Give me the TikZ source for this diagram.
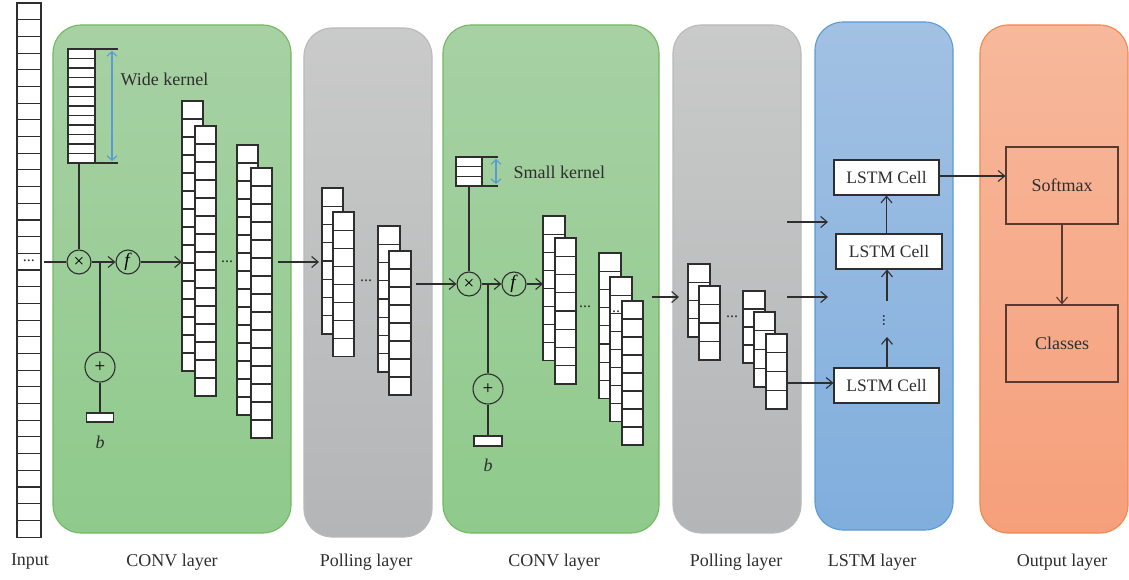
\documentclass[tikz,border=0pt]{standalone}
\usepackage{fontspec}
\setmainfont{Liberation Serif}
\usetikzlibrary{arrows.meta}
\definecolor{ink}{HTML}{2E2E2E}
\definecolor{gtop}{HTML}{A7D1A4}
\definecolor{gbot}{HTML}{8FCA8B}
\definecolor{gbrd}{HTML}{72B863}
\definecolor{ytop}{HTML}{C9CAC9}
\definecolor{ybot}{HTML}{B3B5B7}
\definecolor{ybrd}{HTML}{B9BABA}
\definecolor{btop}{HTML}{A2C1E3}
\definecolor{bbot}{HTML}{80AEDD}
\definecolor{bbrd}{HTML}{5B9BD5}
\definecolor{otop}{HTML}{F7B89B}
\definecolor{obot}{HTML}{F69F7B}
\definecolor{obrd}{HTML}{F0894A}
\definecolor{kblue}{HTML}{5B9BD5}
\definecolor{brown}{HTML}{5A3A2E}
\tikzset{
  ln/.style={draw=ink, line width=1.1pt},
  arr/.style={ln, -{Straight Barb[length=6.5pt,width=11pt]}},
  cellbox/.style={draw=ink, line width=1.1pt, fill=white},
  op/.style={circle, draw=ink, line width=1.1pt, inner sep=0pt, font=\fontsize{19}{19}\selectfont},
  lab/.style={font=\fontsize{18}{21}\selectfont, text=ink},
  layer/.style={rounded corners=28pt, line width=1.1pt},
  lstm/.style={draw=ink, fill=white, line width=1.1pt, minimum width=105pt, minimum height=35pt, inner sep=0pt, font=\fontsize{17.5}{20}\selectfont, text=ink},
  outbox/.style={draw=brown, line width=1.2pt, minimum width=112pt, minimum height=77pt, inner sep=0pt, font=\fontsize{18}{21}\selectfont, text=ink},
  karr/.style={draw=kblue, line width=1.1pt, {Straight Barb[length=4.5pt,width=10pt]}-{Straight Barb[length=4.5pt,width=10pt]}},
  dots/.style={font=\fontsize{16}{16}\selectfont, text=ink, inner sep=0pt},
  bias/.style={draw=ink, fill=white, line width=1.1pt, inner sep=0pt}
}
\newcommand\cstack[6]{%
  \foreach \k in {1,...,#6}{\draw[cellbox] ({#2},{#3+(\k-1)*#5}) rectangle ++(#4,#5);}
  \coordinate (#1) at ({#2},{#3});
}
\begin{document}
\begin{tikzpicture}[x=1pt,y=-1pt]
\useasboundingbox (0,0) rectangle (1129,580);
% layer backgrounds
\draw[layer, top color=gtop, bottom color=gbot, draw=gbrd] (53,25) rectangle (291,533);
\draw[layer, top color=ytop, bottom color=ybot, draw=ybrd] (304,28) rectangle (432,537);
\draw[layer, top color=gtop, bottom color=gbot, draw=gbrd] (443,25) rectangle (659,533);
\draw[layer, top color=ytop, bottom color=ybot, draw=ybrd] (673,25) rectangle (801,533);
\draw[layer, top color=btop, bottom color=bbot, draw=bbrd] (815,22) rectangle (953,530);
\draw[layer, top color=otop, bottom color=obot, draw=obrd] (980,25) rectangle (1128,533);
% layer labels
\node[lab] (lin) at (30,562) {Input};
\node[lab] (lc1) at (172,562) {CONV layer};
\node[lab] (lp1) at (366,562) {Polling layer};
\node[lab] (lc2) at (554,562) {CONV layer};
\node[lab] (lp2) at (736,562) {Polling layer};
\node[lab] (lls) at (872,562) {LSTM layer};
\node[lab] (lou) at (1062,562) {Output layer};
% input column
\cstack{inp}{17}{3}{24}{16.69}{32}
\node[dots] (indots) at (29,261) {...};
\coordinate (in1) at (44,262);
% ---------- CONV 1 ----------
\cstack{k1}{68}{49}{27}{9.5}{12}
\draw[ln] (95,49) -- (118,49);
\draw[ln] (95,163) -- (118,163);
\draw[karr] (112,51) -- (112,161);
\node[lab, anchor=west] (wk) at (117,79) {Wide kernel};
\node[op, minimum size=24pt] (x1) at (79,262) {×};
\node[op, minimum size=24pt] (f1) at (128,262) {\textit{f}};
\node[op, minimum size=30pt] (p1) at (100,367) {+};
\node[bias, minimum width=27pt, minimum height=9pt] (b1) at (100,417.5) {};
\node[lab] (bl1) at (100,442) {\textit{b}};
\draw[ln] (79,163) -- (x1.north);
\draw[ln] (in1) -- (x1.west);
\draw[arr] (x1.east) -- (f1.west);
\draw[ln] (p1.north) -- (p1.north |- x1.east);
\draw[ln] (p1.south) -- (b1.north);
\cstack{sa1}{182}{101}{21}{18}{15}
\cstack{sa2}{195}{126}{21}{18}{15}
\cstack{sb1}{237}{145}{21}{18}{15}
\cstack{sb2}{251}{168}{21}{18}{15}
\node[dots] (d1) at (227,262) {...};
\coordinate (a1) at (182,262);
\draw[arr] (f1.east) -- (a1);
\coordinate (o1) at (278,262);
\coordinate (a2) at (319,262);
\draw[arr] (o1) -- (a2);
% ---------- Pool 1 ----------
\cstack{sc1}{322}{188}{21}{18.25}{8}
\cstack{sc2}{333}{212}{21}{18.1}{8}
\cstack{sd1}{378}{226}{22}{18.25}{8}
\cstack{sd2}{389}{251}{22}{18}{8}
\node[dots] (d2) at (366,281) {...};
\coordinate (o2) at (416,284);
% ---------- CONV 2 ----------
\cstack{k2}{456}{157}{26}{9.67}{3}
\draw[ln] (482,157) -- (498,157);
\draw[ln] (482,186) -- (498,186);
\draw[karr] (496,159) -- (496,184);
\node[lab, anchor=west] (sk) at (510,172) {Small kernel};
\node[op, minimum size=24pt] (x2) at (469,284) {×};
\node[op, minimum size=24pt] (f2) at (514,284) {\textit{f}};
\node[op, minimum size=30pt] (p2) at (488,389) {+};
\node[bias, minimum width=28pt, minimum height=10pt] (b2) at (488,441) {};
\node[lab] (bl2) at (488,465) {\textit{b}};
\draw[ln] (469,186) -- (x2.north);
\draw[arr] (o2) -- (x2.west);
\draw[arr] (x2.east) -- (f2.west);
\draw[ln] (p2.north) -- (p2.north |- x2.east);
\draw[ln] (p2.south) -- (b2.north);
\cstack{se1}{543}{216}{22}{18.1}{8}
\cstack{se2}{555}{238}{21}{18.25}{8}
\coordinate (a3) at (543,284);
\draw[arr] (f2.east) -- (a3);
\cstack{sf1}{599}{253}{22}{18.2}{8}
\cstack{sf2}{610}{277}{22}{18.1}{8}
\node[dots] (d3b) at (618,312) {...};
\cstack{sf3}{622}{301}{21}{18}{8}
\node[dots] (d3) at (585,307) {...};
\coordinate (o3) at (652,297);
\coordinate (a4) at (679,297);
\draw[arr] (o3) -- (a4);
% ---------- Pool 2 ----------
\cstack{sg1}{688}{264}{22}{18.25}{4}
\cstack{sg2}{699}{286}{21}{18.5}{4}
\cstack{sh1}{743}{291}{22}{18}{4}
\cstack{sh2}{754}{312}{21}{18.75}{4}
\cstack{sh3}{766}{334}{21}{18.75}{4}
\node[dots] (d4) at (732,317) {...};
% ---------- LSTM ----------
\node[lstm] (l1) at (886.5,177.5) {LSTM Cell};
\node[lstm, minimum width=106pt] (l2) at (889,251.5) {LSTM Cell};
\node[lstm] (l3) at (886.5,385.5) {LSTM Cell};
\coordinate (li1) at (787,222);
\coordinate (li1e) at (828,222);
\coordinate (li2) at (787,297);
\coordinate (li2e) at (828,297);
\coordinate (li3) at (787,383);
\draw[arr] (li1) -- (li1e);
\draw[arr] (li2) -- (li2e);
\draw[arr] (li3) -- (li3 -| l3.west);
\draw[arr] (l2.north -| l1.south) -- (l1.south);
\coordinate (lv1) at (887,301);
\coordinate (lv2) at (887,337);
\draw[arr] (lv1) -- (lv1 |- l2.south);
\draw[arr] (lv2 |- l3.north) -- (lv2);
\node[dots, rotate=90] (vd) at (884,320) {...};
% ---------- Output ----------
\node[outbox] (sm) at (1062,185.5) {Softmax};
\node[outbox] (cl) at (1062,343.5) {Classes};
\coordinate (l1o) at (939,176);
\draw[arr] (l1o) -- (l1o -| sm.west);
\draw[arr, draw=brown] (sm.south) -- (cl.north);
\end{tikzpicture}
\end{document}
